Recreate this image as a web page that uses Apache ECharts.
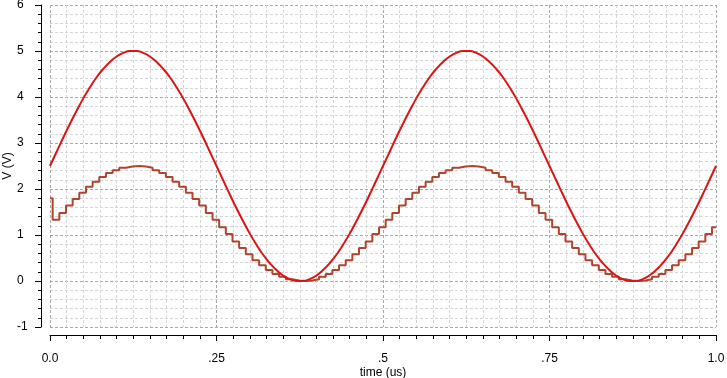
<!DOCTYPE html>
<html>
<head>
<meta charset="utf-8">
<script src="https://cdn.jsdelivr.net/npm/echarts@6/dist/echarts.min.js"></script>
<style>
  html, body { margin: 0; padding: 0; background: #fff; }
  #chart { width: 727px; height: 378px; }
</style>
</head>
<body>
<div id="chart"></div>
<script>
// red trace, sampled every 0.01 us from 0 to 1.0
const sineTimeStep = 0.01
const sineValues = [
  2.5, 2.81, 3.12, 3.42, 3.70, 3.97, 4.21, 4.43, 4.61, 4.76, 4.88, 4.96, 5.00,
  5.00, 4.96, 4.88, 4.76, 4.61, 4.43, 4.21, 3.97, 3.70, 3.42, 3.12, 2.81,
  2.5, 2.19, 1.88, 1.58, 1.30, 1.03, 0.79, 0.57, 0.39, 0.24, 0.12, 0.04, 0.00,
  0.00, 0.04, 0.12, 0.24, 0.39, 0.57, 0.79, 1.03, 1.30, 1.58, 1.88, 2.19,
  2.5, 2.81, 3.12, 3.42, 3.70, 3.97, 4.21, 4.43, 4.61, 4.76, 4.88, 4.96, 5.00,
  5.00, 4.96, 4.88, 4.76, 4.61, 4.43, 4.21, 3.97, 3.70, 3.42, 3.12, 2.81,
  2.5, 2.19, 1.88, 1.58, 1.30, 1.03, 0.79, 0.57, 0.39, 0.24, 0.12, 0.04, 0.00,
  0.00, 0.04, 0.12, 0.24, 0.39, 0.57, 0.79, 1.03, 1.30, 1.58, 1.88, 2.19, 2.5
]

// brown trace: held levels, one per 0.01 us, first level starts at 0.004
const heldStart = 0.004
const heldStep = 0.01
const heldInitial = 1.8
const heldValues = [
  1.33, 1.48, 1.64, 1.78, 1.92, 2.05, 2.16, 2.26, 2.35, 2.41, 2.46, 2.49, 2.50,
  2.49, 2.46, 2.41, 2.35, 2.26, 2.16, 2.05, 1.92, 1.78, 1.64, 1.48, 1.33,
  1.17, 1.02, 0.86, 0.72, 0.58, 0.45, 0.34, 0.24, 0.15, 0.09, 0.04, 0.01, 0.00,
  0.01, 0.04, 0.09, 0.15, 0.24, 0.34, 0.45, 0.58, 0.72, 0.86, 1.02, 1.17,
  1.33, 1.48, 1.64, 1.78, 1.92, 2.05, 2.16, 2.26, 2.35, 2.41, 2.46, 2.49, 2.50,
  2.49, 2.46, 2.41, 2.35, 2.26, 2.16, 2.05, 1.92, 1.78, 1.64, 1.48, 1.33,
  1.17, 1.02, 0.86, 0.72, 0.58, 0.45, 0.34, 0.24, 0.15, 0.09, 0.04, 0.01, 0.00,
  0.01, 0.04, 0.09, 0.15, 0.24, 0.34, 0.45, 0.58, 0.72, 0.86, 1.02, 1.17
]

const xTickLabels = { 0: '0.0', 0.25: '.25', 0.5: '.5', 0.75: '.75', 1: '1.0' }

function sinePoints () {
  return sineValues.map((v, i) => [+(i * sineTimeStep).toFixed(4), v])
}

function heldPoints () {
  let pts = [[0, heldInitial]]
  for (let i = 0; i < heldValues.length; i++) {
    pts.push([+(heldStart + i * heldStep).toFixed(4), heldValues[i]])
  }
  pts.push([1, heldValues[heldValues.length - 1]])
  return pts
}

const font = { fontFamily: 'Liberation Sans, Arial, sans-serif', fontSize: 12, color: '#000' }

let myChart = echarts.init(document.getElementById('chart'), null, { renderer: 'canvas' })
myChart.setOption({
  animation: false,
  backgroundColor: '#fff',
  grid: { left: 50, right: 11, top: 5, bottom: 51, show: false, containLabel: false, outerBoundsMode: 'none' },
  xAxis: {
    type: 'value', min: 0, max: 1, interval: 0.25,
    offset: 8,
    name: 'time (us)', nameLocation: 'middle', nameGap: 32, nameMoveOverlap: false,
    nameTextStyle: font,
    axisLine: { show: true, onZero: false, lineStyle: { color: '#000', width: 1 } },
    axisTick: { show: true, length: 6, lineStyle: { color: '#000' } },
    minorTick: { show: true, splitNumber: 10, length: 4, lineStyle: { color: '#000' } },
    axisLabel: Object.assign({ margin: 18, formatter: v => xTickLabels[v] ?? String(v) }, font),
    splitLine: { show: true, lineStyle: { color: '#a8a8a8', type: [3, 2], width: 1 } },
    minorSplitLine: { show: true, lineStyle: { color: '#d6d6d6', type: [3, 2], width: 1 } }
  },
  yAxis: {
    type: 'value', min: -1, max: 6, interval: 1,
    offset: 9,
    name: 'V (V)', nameLocation: 'middle', nameGap: 27, nameMoveOverlap: false,
    nameTextStyle: font,
    axisLine: { show: true, onZero: false, lineStyle: { color: '#000', width: 1 } },
    axisTick: { show: true, length: 6, lineStyle: { color: '#000' } },
    minorTick: { show: true, splitNumber: 5, length: 3, lineStyle: { color: '#000' } },
    axisLabel: Object.assign({ margin: 24, align: 'left' }, font),
    splitLine: { show: true, lineStyle: { color: '#a8a8a8', type: [3, 2], width: 1 } },
    minorSplitLine: { show: true, lineStyle: { color: '#d6d6d6', type: [3, 2], width: 1 } }
  },
  series: [
    {
      name: 'held', type: 'line', step: 'end', showSymbol: false,
      data: heldPoints(),
      lineStyle: { color: '#b0442f', width: 2 }
    },
    {
      name: 'sine', type: 'line', smooth: true, showSymbol: false,
      data: sinePoints(),
      lineStyle: { color: '#dc1414', width: 2 }
    }
  ]
})
</script>
</body>
</html>
